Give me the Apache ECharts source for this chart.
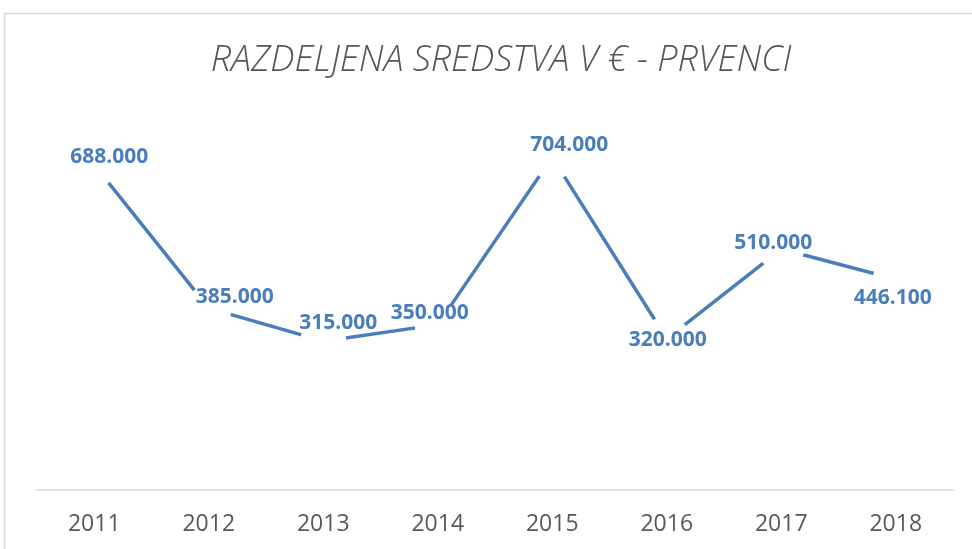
<!DOCTYPE html>
<html>
<head>
<meta charset="utf-8">
<title>Razdeljena sredstva - prvenci</title>
<script src="https://cdn.jsdelivr.net/npm/echarts@6/dist/echarts.min.js"></script>
<style>
html, body { margin: 0; padding: 0; background: #fff; }
#chart { width: 972px; height: 549px; }
</style>
</head>
<body>
<div id="chart"></div>
<script>
// podatki
var years = ['2011', '2012', '2013', '2014', '2015', '2016', '2017', '2018'];
var amounts = [688000, 385000, 315000, 350000, 704000, 320000, 510000, 446100];

// zamiki oznak (kot v izvirniku, ročno premaknjene)
var labelShift = [[15, -8], [26, -11], [15, -18], [-8, -12], [17, -12], [1, 1], [-8, -6], [-3, 19]];

// 688000 -> 688.000
function fmt(v) {
    var s = v.toFixed(0);
    return s.replace(/\B(?=(\d{3})+(?!\d))/g, '.');
}

var chart = echarts.init(document.getElementById('chart'));

var option = {
    backgroundColor: '#fff',
    animation: false,
    title: {
        text: 'RAZDELJENA SREDSTVA V € - PRVENCI',
        left: 496,
        top: 38,
        textAlign: 'center',
        textStyle: {
            fontFamily: 'Open Sans',
            fontStyle: 'italic',
            fontWeight: 300,
            fontSize: 36,
            color: '#555555'
        }
    },
    // okvir grafa
    graphic: [{
        type: 'rect',
        silent: true,
        shape: { x: 4.5, y: 13.5, width: 1100, height: 700 },
        style: { fill: 'none', stroke: '#d9d9d9', lineWidth: 1.5 }
    }],
    grid: { left: 37, right: 19, top: 112, bottom: 59 },
    xAxis: {
        type: 'category',
        data: years,
        axisLine: { lineStyle: { color: '#d9d9d9', width: 1.5 } },
        axisTick: { show: false },
        axisLabel: {
            color: '#595959',
            fontFamily: 'Open Sans',
            fontSize: 23,
            margin: 23
        }
    },
    yAxis: {
        type: 'value',
        min: 0,
        max: 800000,
        show: false,
        splitLine: { show: false }
    },
    series: [{
        type: 'line',
        data: amounts.map(function (v, i) {
            return { value: v, label: { offset: labelShift[i] } };
        }),
        symbol: 'circle',
        symbolSize: 46,
        showSymbol: true,
        itemStyle: { color: '#fff', borderWidth: 0 },
        lineStyle: { color: '#4a7ebb', width: 3.5 },
        emphasis: { disabled: true },
        label: {
            show: true,
            position: 'inside',
            formatter: function (p) { return fmt(p.value); },
            color: '#4a7ebb',
            fontFamily: 'Open Sans',
            fontWeight: 'bold',
            fontSize: 21
        }
    }]
};

chart.setOption(option);
</script>
</body>
</html>
